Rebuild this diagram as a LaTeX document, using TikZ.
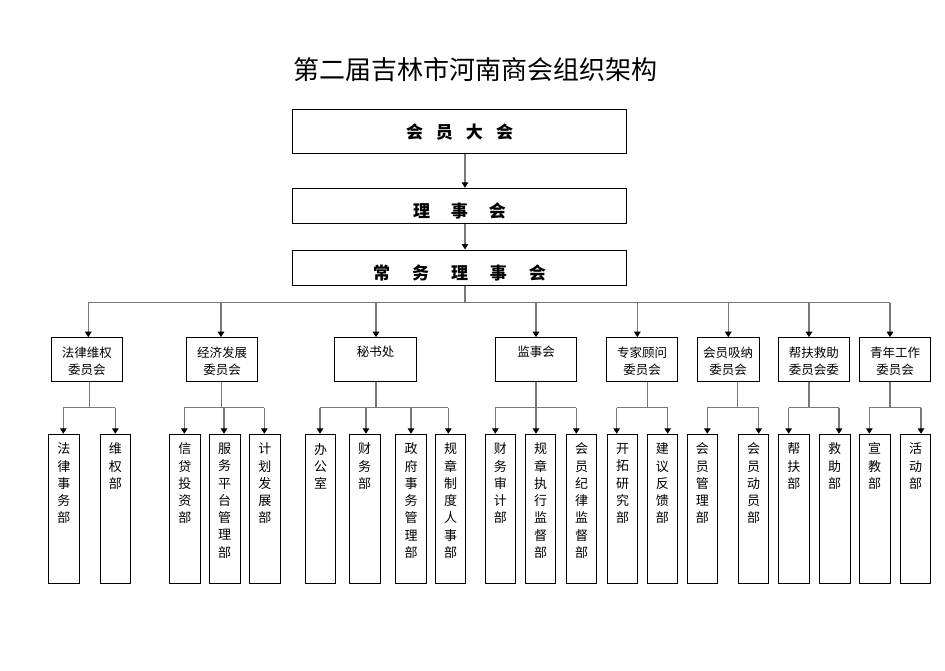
\documentclass[tikz,border=0pt]{standalone}
\usepackage{fontspec}
\newfontfamily\cjk{Noto Sans CJK SC}
\usetikzlibrary{arrows.meta}
\definecolor{lngray}{RGB}{120,120,120}
\tikzset{
  conn/.style={draw=lngray, line width=1.5pt},
  arr/.style={conn, -{Triangle[black,length=5.5pt,width=6.5pt]}},
  topbox/.style={draw=black, line width=1pt, inner sep=0pt, minimum width=334.4pt},
  combox/.style={draw=black, line width=1pt, inner sep=0pt, minimum height=43.3pt},
  leafbox/.style={draw=black, line width=1pt, inner sep=0pt, minimum height=149pt},
  toptext/.style={font=\cjk\fontsize{17}{17}\selectfont\bfseries, inner sep=0pt},
  comtext/.style={font=\cjk\fontsize{12.5}{17.3}\selectfont, inner sep=0pt, align=center},
  leaftext/.style={font=\cjk\fontsize{13}{17.25}\selectfont, inner sep=0pt, align=center},
  titletext/.style={font=\cjk\fontsize{26}{26}\selectfont, inner sep=0pt},
}
% name, left, right, number of characters, text
\newcommand\mkleaf[5]{%
  \node[leafbox, minimum width={#3-#2}] (#1) at ({(#2+#3)/2},508.8) {};
  \node[leaftext] (#1t) at ({(#2+#3)/2},{449+(#4-1)*8.625}) {#5};
}
% name, left, right, text centre y, text
\newcommand\mkcom[5]{%
  \node[combox, minimum width={#3-#2}] (#1) at ({(#2+#3)/2},359.35) {};
  \node[comtext] (#1t) at ({(#2+#3)/2},#4) {#5};
}
\begin{document}
\begin{tikzpicture}[x=1pt,y=-1pt]
\useasboundingbox[fill=white] (0,0) rectangle (945,670);

\node[titletext] (title) at (475.5,70) {第二届吉林市河南商会组织架构};

\node[topbox, minimum height=44pt] (t1) at (459.5,131.3) {};
\node[toptext] (t1t) at (459.5,131.7) {会\hspace{13pt}员\hspace{13pt}大\hspace{13pt}会};
\node[topbox, minimum height=35pt] (t2) at (459.5,205.8) {};
\node[toptext] (t2t) at (459.5,211.2) {理\hspace{21pt}事\hspace{21pt}会};
\node[topbox, minimum height=35.5pt] (t3) at (459.5,267.75) {};
\node[toptext] (t3t) at (459.5,272.5) {常\hspace{22pt}务\hspace{22pt}理\hspace{22pt}事\hspace{22pt}会};

\draw[arr] (t1.south -| 465,0) -- (t2.north -| 465,0);
\draw[arr] (t2.south -| 465,0) -- (t3.north -| 465,0);
\draw[conn] (t3.south -| 465,0) -- (465,302.7);
\draw[conn] (88.3,302.7) -- (890,302.7);

\mkcom{c1}{51.7}{122}{361.35}{法律维权\\委员会}
\mkcom{c2}{186.7}{257.3}{361.35}{经济发展\\委员会}
\mkcom{c3}{334.3}{416.7}{351.7}{秘书处}
\mkcom{c4}{495.3}{576.7}{351.7}{监事会}
\mkcom{c5}{606.7}{677.7}{361.35}{专家顾问\\委员会}
\mkcom{c6}{697.3}{759}{361.35}{会员吸纳\\委员会}
\mkcom{c7}{778.3}{849.3}{361.35}{帮扶救助\\委员会委}
\mkcom{c8}{859.3}{930.7}{361.35}{青年工作\\委员会}

\foreach \n/\x in {c1/88.3,c2/221,c3/376,c4/536,c5/637.3,c6/728.3,c7/809,c8/890}
  \draw[arr] (\x,302.7) -- (\n.north -| \x,0);

\mkleaf{l1}{48.3}{79.3}{5}{法\\律\\事\\务\\部}
\mkleaf{l2}{100.3}{130.3}{3}{维\\权\\部}
\mkleaf{l3}{169.3}{200.3}{5}{信\\贷\\投\\资\\部}
\mkleaf{l4}{209.3}{240}{7}{服\\务\\平\\台\\管\\理\\部}
\mkleaf{l5}{249.3}{280.3}{5}{计\\划\\发\\展\\部}
\mkleaf{l6}{305.3}{335.7}{3}{办\\公\\室}
\mkleaf{l7}{349.3}{380}{3}{财\\务\\部}
\mkleaf{l8}{395.3}{426.7}{7}{政\\府\\事\\务\\管\\理\\部}
\mkleaf{l9}{435.3}{465.7}{7}{规\\章\\制\\度\\人\\事\\部}
\mkleaf{l10}{485.3}{515.3}{5}{财\\务\\审\\计\\部}
\mkleaf{l11}{525.3}{555.7}{7}{规\\章\\执\\行\\监\\督\\部}
\mkleaf{l12}{566.3}{596.7}{7}{会\\员\\纪\\律\\监\\督\\部}
\mkleaf{l13}{607.3}{637.7}{5}{开\\拓\\研\\究\\部}
\mkleaf{l14}{647.3}{677.3}{5}{建\\议\\反\\馈\\部}
\mkleaf{l15}{687.3}{717.3}{5}{会\\员\\管\\理\\部}
\mkleaf{l16}{738.3}{768.7}{5}{会\\员\\动\\员\\部}
\mkleaf{l17}{778.3}{809.3}{3}{帮\\扶\\部}
\mkleaf{l18}{819.3}{850}{3}{救\\助\\部}
\mkleaf{l19}{859.3}{890}{3}{宣\\教\\部}
\mkleaf{l20}{900.3}{930.7}{3}{活\\动\\部}

% group 1
\draw[conn] (c1.south -| 89.3,0) -- (89.3,407.7);
\draw[conn] (63.3,407.7) -- (115.3,407.7);
\foreach \n/\x in {l1/63.3,l2/115.3} \draw[arr] (\x,407.7) -- (\n.north -| \x,0);
% group 2
\draw[conn] (c2.south -| 221.7,0) -- (221.7,407.7);
\draw[conn] (184.3,407.7) -- (264.3,407.7);
\foreach \n/\x in {l3/184.3,l4/224,l5/264.3} \draw[arr] (\x,407.7) -- (\n.north -| \x,0);
% group 3
\draw[conn] (c3.south -| 376,0) -- (376,407.7);
\draw[conn] (320,407.7) -- (448.3,407.7);
\foreach \n/\x in {l6/320,l7/366,l8/411,l9/448.3} \draw[arr] (\x,407.7) -- (\n.north -| \x,0);
% group 4
\draw[conn] (c4.south -| 536,0) -- (536,407.7);
\draw[conn] (495.3,407.7) -- (576.3,407.7);
\foreach \n/\x in {l10/495.3,l11/536,l12/576.3} \draw[arr] (\x,407.7) -- (\n.north -| \x,0);
% group 5
\draw[conn] (c5.south -| 647.3,0) -- (647.3,407.7);
\draw[conn] (616.7,407.7) -- (667.7,407.7);
\foreach \n/\x in {l13/616.7,l14/667.7} \draw[arr] (\x,407.7) -- (\n.north -| \x,0);
% group 6
\draw[conn] (c6.south -| 737.3,0) -- (737.3,407.7);
\draw[conn] (707.3,407.7) -- (758.7,407.7);
\foreach \n/\x in {l15/707.3,l16/758.7} \draw[arr] (\x,407.7) -- (\n.north -| \x,0);
% group 7
\draw[conn] (c7.south -| 809,0) -- (809,407.7);
\draw[conn] (788.7,407.7) -- (839,407.7);
\foreach \n/\x in {l17/788.7,l18/839} \draw[arr] (\x,407.7) -- (\n.north -| \x,0);
% group 8
\draw[conn] (c8.south -| 890,0) -- (890,407.7);
\draw[conn] (869.3,407.7) -- (921,407.7);
\foreach \n/\x in {l19/869.3,l20/921} \draw[arr] (\x,407.7) -- (\n.north -| \x,0);
\end{tikzpicture}
\end{document}
